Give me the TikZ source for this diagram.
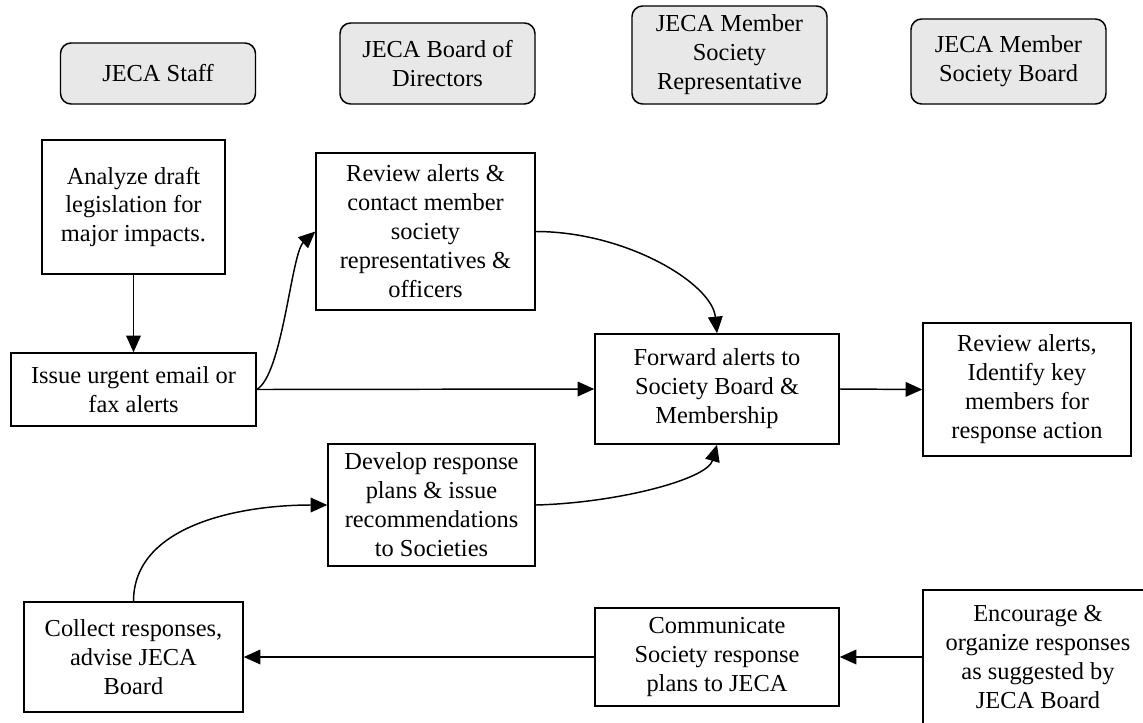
\documentclass[tikz,border=0pt]{standalone}
\usepackage{fontspec}
\setmainfont{Liberation Serif}
\usetikzlibrary{arrows.meta,backgrounds}
\definecolor{hdrfill}{HTML}{E8E8E8}
\tikzset{
  base/.style={line width=1.1pt, align=center, inner sep=0pt,
    font=\fontsize{18.3}{21.75}\selectfont},
  hdr/.style={base, draw=black, rounded corners=8pt, minimum width=146.25pt},
  proc/.style={base, draw=black},
  conn/.style={line width=1.1pt, -{Triangle[length=12.5pt,width=11pt]}},
  hdrbg/.style={fill=hdrfill, rounded corners=8pt}
}
\begin{document}
\begin{tikzpicture}[x=0.75pt,y=-0.75pt]
\clip (0,0) rectangle (1143,722);
% headers
\node[hdr, minimum height=45.75pt] (hstaff) at (158,73.5) {JECA Staff};
\node[hdr, minimum height=60.75pt] (hboard) at (437.5,63.5) {JECA Board of\\Directors};
\node[hdr, minimum height=73.5pt] (hrep) at (729.5,55) {JECA Member\\Society\\Representative};
\node[hdr, minimum height=63.75pt] (hsoc) at (1008.5,61.5) {JECA Member\\Society Board};
\begin{scope}[on background layer]
  \foreach \h in {hstaff,hboard,hrep,hsoc}
    \path[hdrbg] (\h.south west) rectangle (\h.north east);
\end{scope}
% process boxes
\node[proc, minimum width=137.25pt, minimum height=100.5pt] (analyze) at (133.5,207) {Analyze draft\\legislation for\\major impacts.};
\node[proc, minimum width=164.25pt, minimum height=117.75pt] (revc) at (425.5,231.5) {Review alerts \&\\contact member\\society\\representatives \&\\officers};
\node[proc, minimum width=183.75pt, minimum height=54.75pt] (issue) at (133.5,389.5) {Issue urgent email or\\fax alerts};
\node[proc, minimum width=183pt, minimum height=82.5pt] (forward) at (717,389) {Forward alerts to\\Society Board \&\\Membership};
\node[proc, minimum width=156pt, minimum height=99.75pt] (revi) at (1027,389.5) {Review alerts,\\Identify key\\members for\\response action};
\node[proc, minimum width=155.25pt, minimum height=91.5pt] (develop) at (431.5,505) {Develop response\\plans \& issue\\recommendations\\to Societies};
\node[proc, minimum width=164.25pt, minimum height=82.5pt] (collect) at (133.5,657) {Collect responses,\\advise JECA\\Board};
\node[proc, minimum width=183pt, minimum height=73.5pt] (comm) at (717,657) {Communicate\\Society response\\plans to JECA};
\node[proc, minimum width=172.5pt, minimum height=100.5pt] (encour) at (1038,657) {Encourage \&\\organize responses\\as suggested by\\JECA Board};
% connectors
\draw[conn] (analyze.south) -- (issue.north);
\draw[conn] (issue.east) .. controls +(26,-15) and +(-24,22) .. (revc.west);
\draw[conn] (issue.east) -- (forward.west);
\draw[conn] (revc.east) .. controls +(90,0) and +(-5,-50) .. (forward.north);
\draw[conn] (forward.east) -- (revi.west);
\draw[conn] (develop.east) .. controls +(80,-2) and +(-10,35) .. (forward.south);
\draw[conn] (collect.north) .. controls +(0,-75) and +(-90,0) .. (develop.west);
\draw[conn] (encour.west) -- (comm.east);
\draw[conn] (comm.west) -- (collect.east);
\end{tikzpicture}
\end{document}
